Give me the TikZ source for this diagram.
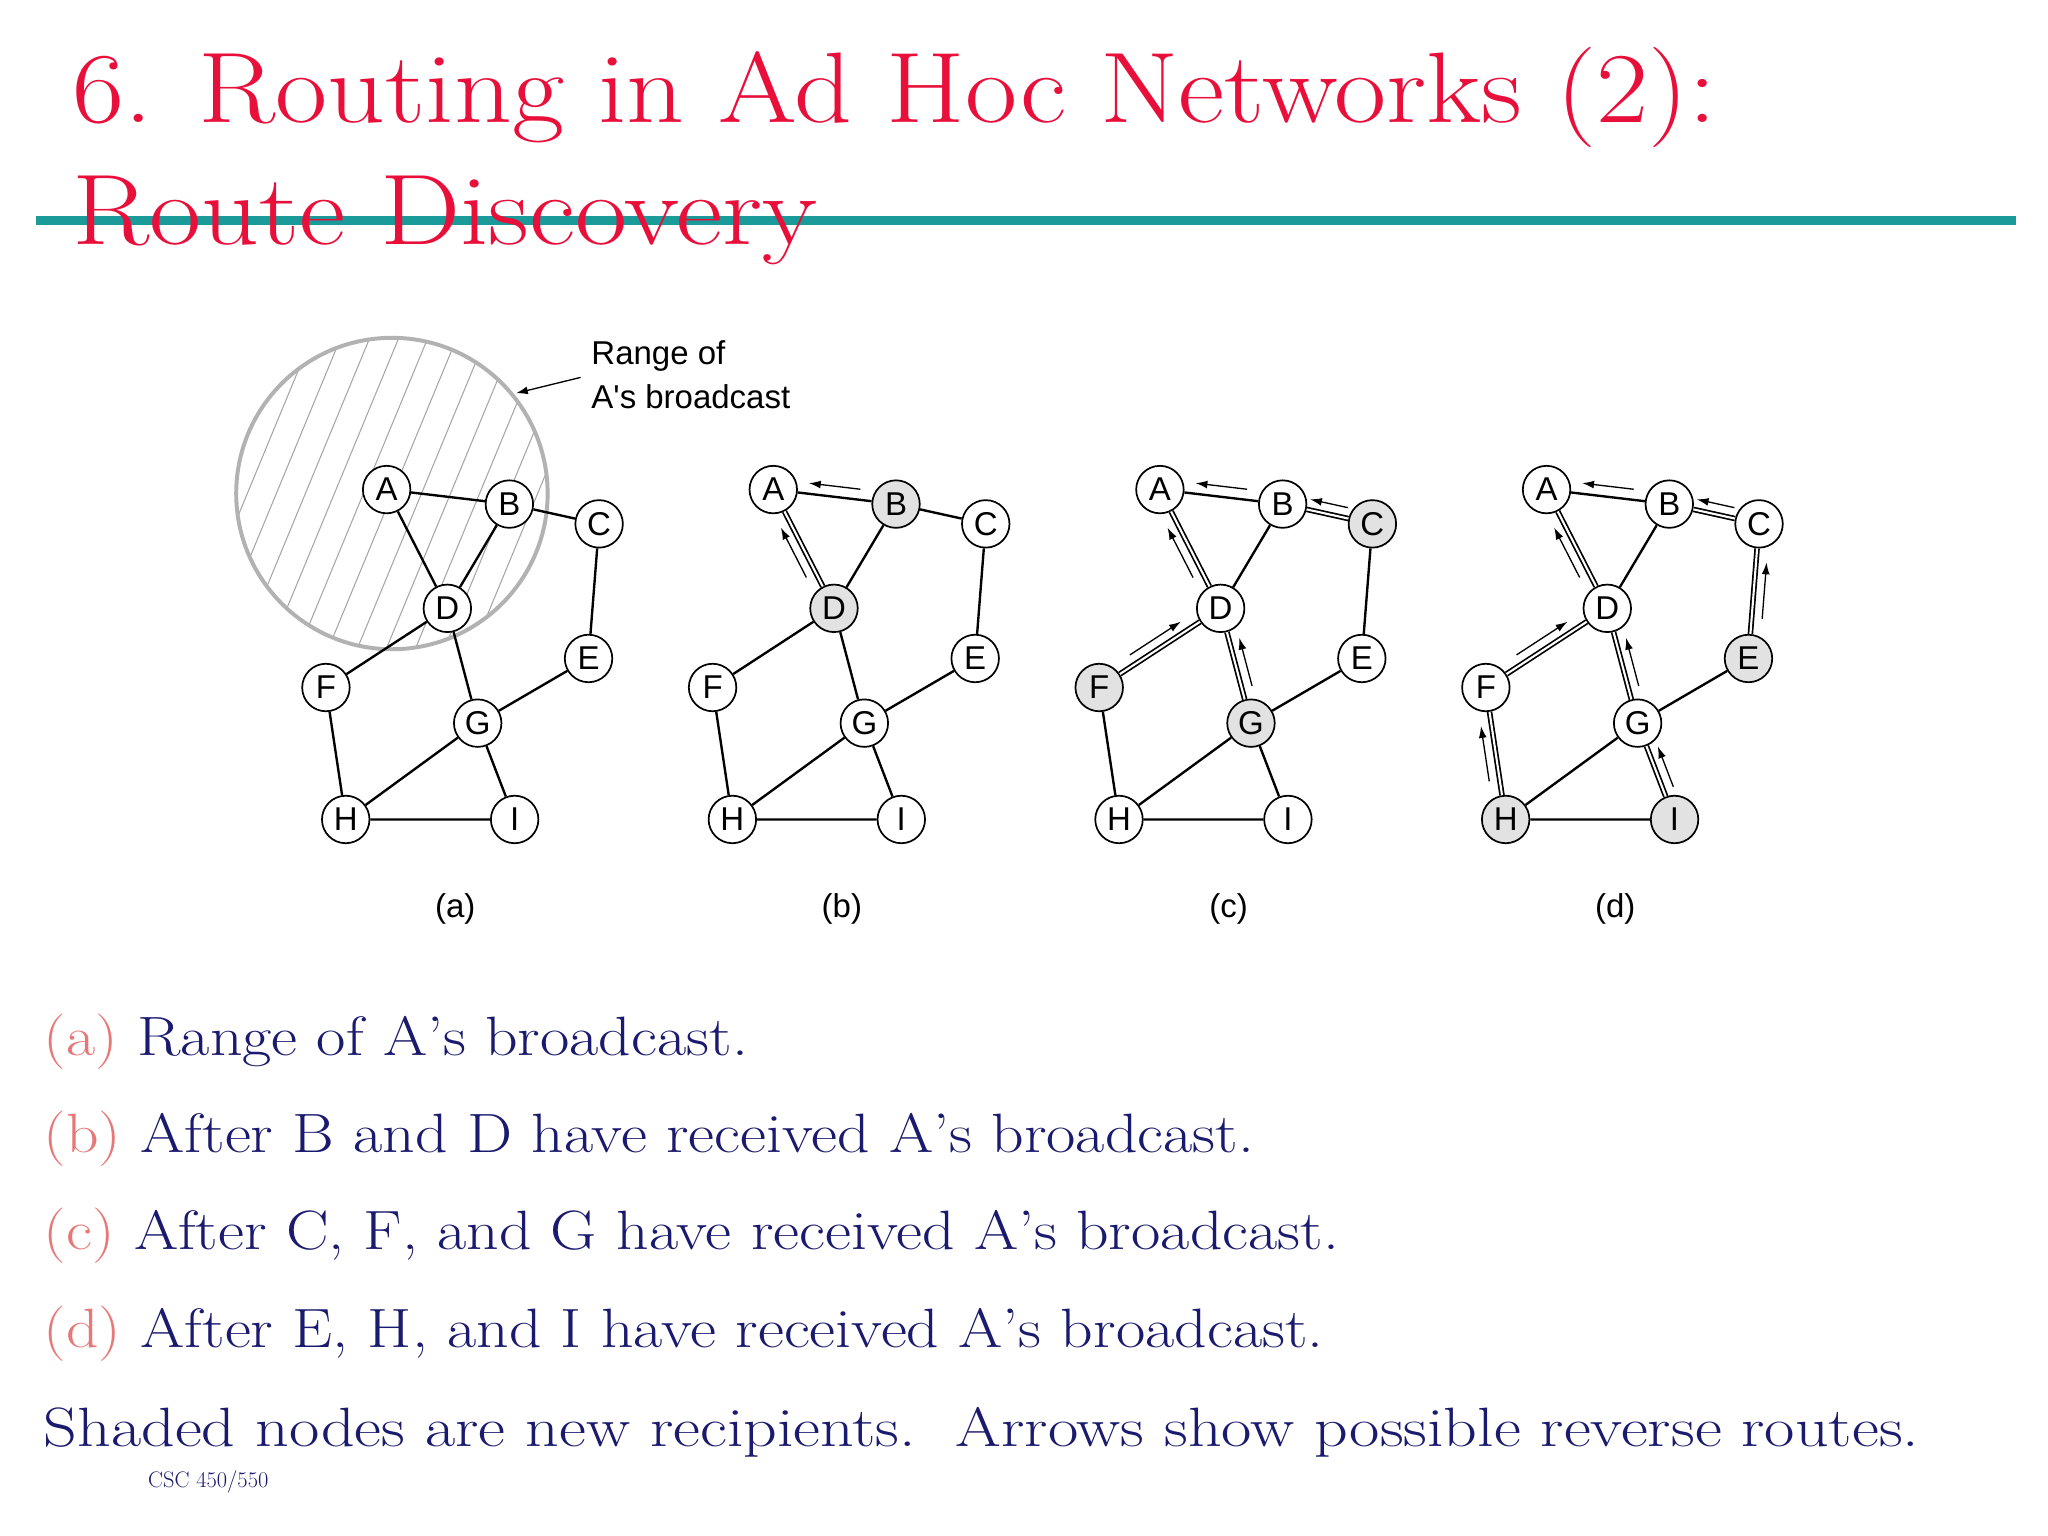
\documentclass[tikz,border=0pt]{standalone}
\usepackage{fontspec}
\usepackage{graphicx}
\newfontfamily\hv{Liberation Sans}
\usetikzlibrary{calc,arrows.meta}
\definecolor{ttl}{HTML}{E8103A}
\definecolor{teal}{HTML}{1A9A98}
\definecolor{navy}{HTML}{1A1A6E}
\definecolor{pinkl}{HTML}{E87878}
\definecolor{shade}{HTML}{E2E2E2}
\newcommand\q{\char"0027\relax}
\tikzset{
 nd/.style={circle,draw,line width=1.3pt,fill=white,minimum size=36pt,inner sep=0pt,font=\hv\fontsize{25}{25}\selectfont},
 sh/.style={nd,fill=shade},
 ed/.style={line width=1.8pt},
 rt/.style={double,line width=1.3pt,double distance=1.6pt},
 arr/.style={line width=1pt,-{Latex[length=9pt,width=6pt]}},
 body/.style={anchor=base west,inner sep=0pt,font=\fontsize{42}{42}\selectfont,text=navy},
 sub/.style={font=\hv\fontsize{25}{25}\selectfont},
}
\newcommand\bt[1]{\scalebox{1.15}[1]{#1}}
\newcommand\route[3]{\draw[arr] ($(#1)!0.3!(#2)!#3!90:(#2)$) -- ($(#1)!0.72!(#2)!#3!90:(#2)$);}
\newcommand\panel[6]{%
 \begin{scope}[shift={(#1,0)}]
  \node[#2] (A) at (293,371) {A};
  \node[#3] (B) at (386,382) {B};
  \node[#4] (C) at (454,397) {C};
  \node[#3] (D) at (339,461) {D};
  \node[#6] (E) at (446,499) {E};
  \node[#5] (F) at (247,521) {F};
  \node[#5] (G) at (362,548) {G};
  \node[#6] (H) at (262,621) {H};
  \node[#6] (I) at (390,621) {I};
 \end{scope}}
\begin{document}
\begin{tikzpicture}[x=1pt,y=-1pt]
\useasboundingbox (0,0) rectangle (1552,1164);
\fill[white] (0,0) rectangle (1552,1164);
% title
\draw[teal,line width=7pt] (27,167) -- (1528,167);
\node[anchor=base west,inner sep=0pt,text=ttl,font=\fontsize{76}{76}\selectfont] (t1) at (55,93) {\scalebox{1.13}[1]{6. Routing in Ad Hoc Networks (2):}};
\node[anchor=base west,inner sep=0pt,text=ttl,font=\fontsize{76}{76}\selectfont] (t2) at (55,185) {\scalebox{1.13}[1]{Route Discovery}};
% range circle
\begin{scope}
 \clip (297,374) circle (118);
 \foreach \i in {-16,...,16} \draw[gray!70,line width=0.8pt] (297+\i*22-60,520) -- (297+\i*22+60,230);
\end{scope}
\draw[gray!60,line width=3pt] (297,374) circle (118) coordinate (rc);
\coordinate (rtip) at (391,298);
\node[anchor=west,align=left,inner sep=0pt,font=\hv\fontsize{25}{34}\selectfont] (rl) at (448,284) {Range of\\A\q s broadcast};
\draw[arr] (440,286) -- (rtip);
% panels
\panel{0}{nd}{nd}{nd}{nd}{nd}
\draw[ed] (A)--(B) (A)--(D) (B)--(D) (B)--(C) (C)--(E) (D)--(F) (D)--(G) (E)--(G) (F)--(H) (G)--(H) (G)--(I) (H)--(I);
\node[sub] (la) at (345,689) {(a)};
\panel{293}{nd}{sh}{nd}{nd}{nd}
\draw[ed] (A)--(B) (B)--(D) (B)--(C) (C)--(E) (D)--(F) (D)--(G) (E)--(G) (F)--(H) (G)--(H) (G)--(I) (H)--(I);
\draw[rt] (A)--(D);
\route{B}{A}{-8pt}\route{D}{A}{8pt}
\node[sub] (lb) at (638,689) {(b)};
\panel{586}{nd}{nd}{sh}{sh}{nd}
\draw[ed] (A)--(B) (B)--(D) (C)--(E) (E)--(G) (F)--(H) (G)--(H) (G)--(I) (H)--(I);
\draw[rt] (A)--(D) (B)--(C) (D)--(F) (D)--(G);
\route{B}{A}{-8pt}\route{D}{A}{8pt}\route{C}{B}{-8pt}\route{F}{D}{8pt}\route{G}{D}{-8pt}
\node[sub] (lc) at (931,689) {(c)};
\panel{879}{nd}{nd}{nd}{nd}{sh}
\draw[ed] (A)--(B) (B)--(D) (E)--(G) (G)--(H) (H)--(I);
\draw[rt] (A)--(D) (B)--(C) (D)--(F) (D)--(G) (C)--(E) (F)--(H) (G)--(I);
\route{B}{A}{-8pt}\route{D}{A}{8pt}\route{C}{B}{-8pt}\route{F}{D}{8pt}\route{G}{D}{-8pt}
\route{E}{C}{-8pt}\route{H}{F}{8pt}\route{I}{G}{-8pt}
\node[sub] (ld) at (1224,689) {(d)};
% body text
\node[body] (p1) at (33,800) {\bt{\textcolor{pinkl}{(a)} Range of A\q s broadcast.}};
\node[body] (p2) at (33,873) {\bt{\textcolor{pinkl}{(b)} After B and D have received A\q s broadcast.}};
\node[body] (p3) at (33,947) {\bt{\textcolor{pinkl}{(c)} After C, F, and G have received A\q s broadcast.}};
\node[body] (p4) at (33,1021) {\bt{\textcolor{pinkl}{(d)} After E, H, and I have received A\q s broadcast.}};
\node[body] (p5) at (33,1096) {\scalebox{1.19}[1]{Shaded nodes are new recipients.\ \ Arrows show possible reverse routes.}};
\node[anchor=base west,inner sep=0pt,text=navy,font=\fontsize{17}{17}\selectfont] (csc) at (112,1127) {CSC 450/550};
\end{tikzpicture}
\end{document}
